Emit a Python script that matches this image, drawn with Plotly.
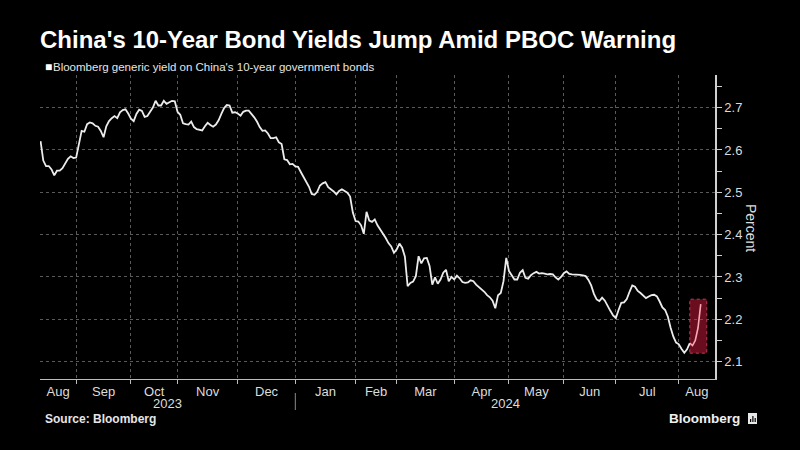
import pandas as pd
import plotly.graph_objects as go

# ---------------- data ----------------
start_date = "2023-08-15"
end_date = "2024-08-13"
market_holidays = [
    "2023-09-29", "2023-10-02", "2023-10-03", "2023-10-04", "2023-10-05", "2023-10-06",
    "2024-01-01", "2024-02-09", "2024-02-12", "2024-02-13", "2024-02-14", "2024-02-15",
    "2024-02-16", "2024-04-04", "2024-04-05", "2024-05-01", "2024-05-02", "2024-05-03",
    "2024-06-10",
]

yields = [
    2.621, 2.575, 2.562, 2.562, 2.554, 2.540, 2.551, 2.551, 2.557, 2.568,
    2.579, 2.585, 2.581, 2.582, 2.617, 2.645, 2.643, 2.661, 2.665, 2.663,
    2.657, 2.655, 2.645, 2.630, 2.656, 2.668, 2.675, 2.680, 2.675, 2.689,
    2.694, 2.696, 2.686, 2.674, 2.668, 2.685, 2.695, 2.692, 2.678, 2.680,
    2.690, 2.700, 2.716, 2.705, 2.705, 2.716, 2.709, 2.713, 2.716, 2.715,
    2.690, 2.683, 2.663, 2.661, 2.660, 2.667, 2.654, 2.649, 2.647, 2.646,
    2.656, 2.664, 2.659, 2.655, 2.660, 2.670, 2.685, 2.699, 2.706, 2.705,
    2.688, 2.689, 2.686, 2.681, 2.690, 2.693, 2.693, 2.686, 2.677, 2.667,
    2.654, 2.645, 2.646, 2.639, 2.628, 2.628, 2.630, 2.618, 2.614, 2.578,
    2.576, 2.566, 2.567, 2.561, 2.560, 2.548, 2.537, 2.526, 2.513, 2.496,
    2.494, 2.501, 2.516, 2.521, 2.524, 2.512, 2.508, 2.502, 2.495, 2.503,
    2.507, 2.503, 2.499, 2.490, 2.452, 2.432, 2.431, 2.422, 2.402, 2.454,
    2.433, 2.430, 2.436, 2.422, 2.413, 2.403, 2.392, 2.380, 2.372, 2.357,
    2.365, 2.379, 2.369, 2.348, 2.278, 2.286, 2.289, 2.302, 2.349, 2.332,
    2.344, 2.345, 2.326, 2.282, 2.299, 2.284, 2.294, 2.310, 2.317, 2.290,
    2.300, 2.294, 2.303, 2.297, 2.288, 2.286, 2.287, 2.292, 2.290, 2.282,
    2.277, 2.270, 2.265, 2.257, 2.252, 2.244, 2.226, 2.257, 2.262, 2.290,
    2.345, 2.314, 2.305, 2.294, 2.294, 2.310, 2.316, 2.298, 2.296, 2.304,
    2.309, 2.312, 2.308, 2.309, 2.308, 2.306, 2.307, 2.306, 2.299, 2.294,
    2.300, 2.309, 2.313, 2.307, 2.306, 2.306, 2.306, 2.305, 2.304, 2.302,
    2.293, 2.280, 2.260, 2.247, 2.243, 2.251, 2.244, 2.230, 2.220, 2.209,
    2.203, 2.222, 2.239, 2.240, 2.248, 2.265, 2.280, 2.277, 2.267, 2.262,
    2.256, 2.250, 2.254, 2.257, 2.258, 2.254, 2.242, 2.228, 2.222, 2.206,
    2.180, 2.159, 2.145, 2.141, 2.130, 2.121, 2.129, 2.144, 2.138, 2.150,
    2.180, 2.236,
]

month_names = ["Jan", "Feb", "Mar", "Apr", "May", "Jun",
               "Jul", "Aug", "Sep", "Oct", "Nov", "Dec"]
y_tick_values = [2.1, 2.2, 2.3, 2.4, 2.5, 2.6, 2.7]
y_tick_labels = ["2.1", "2.2", "2.3", "2.4", "2.5", "2.6", "2.7"]

highlight_start = "2024-08-07"
highlight_low, highlight_high = 2.12, 2.2475

# ---------------- trading calendar ----------------
dates = pd.bdate_range(start_date, end_date)
dates = dates[~dates.isin(pd.to_datetime(market_holidays))]
n = min(len(dates), len(yields))
dates = dates[:n]
vals = yields[:n]
idx = list(range(n))

x_lo, x_hi = -0.2, n - 1 + 5.2
y_lo, y_hi = 2.059, 2.777

# month boundaries (first trading day of each month)
bounds = [i for i in range(1, n) if dates[i].month != dates[i - 1].month]
edges = [x_lo] + bounds + [x_hi]
month_keys = [dates[0]] + [dates[b] for b in bounds]
mid_vals = [(edges[k] + edges[k + 1]) / 2 for k in range(len(edges) - 1)]
mid_text = [month_names[d.month - 1] for d in month_keys]

# year spans
year_break = [b for b in bounds if dates[b].year != dates[b - 1].year][0]
year_mids = [((x_lo + year_break) / 2, str(dates[0].year)),
             ((year_break + x_hi) / 2, str(dates[-1].year))]

hl_i = int(dates.get_loc(pd.Timestamp(highlight_start)))

# ---------------- layout helpers ----------------
W, H = 800, 450
L, R, T, B = 40, 85, 75, 71
PW, PH = W - L - R, H - T - B


def px_x(p):
    return (p - L) / PW


def px_y(p):
    return (H - B - p) / PH


FONT = "Liberation Sans, Arial, sans-serif"
TXT = "#dcdcdc"
GRID = "#5a5a5a"

fig = go.Figure()
fig.add_trace(go.Scatter(
    x=idx[:hl_i + 1], y=vals[:hl_i + 1], mode="lines",
    line=dict(color="#ececec", width=1.8), hoverinfo="skip", showlegend=False))
fig.add_trace(go.Scatter(
    x=idx[hl_i:], y=vals[hl_i:], mode="lines",
    line=dict(color="#f7a8b4", width=1.6), hoverinfo="skip", showlegend=False))

# highlight box
fig.add_shape(type="rect", xref="x", yref="y",
              x0=hl_i, x1=x_hi - 3.0, y0=highlight_low, y1=highlight_high,
              fillcolor="rgba(125,15,35,0.85)",
              line=dict(color="#b8404f", width=1, dash="dot"), layer="below")

# year separator
fig.add_shape(type="line", xref="x", yref="paper",
              x0=year_break, x1=year_break, y0=px_y(393), y1=px_y(410),
              line=dict(color="#8a8a8a", width=1))

annotations = []
for xm, label in year_mids:
    annotations.append(dict(x=xm, xref="x", y=px_y(403), yref="paper",
                            text=label, showarrow=False,
                            font=dict(family=FONT, size=13, color=TXT),
                            xanchor="center", yanchor="middle"))

annotations += [
    dict(x=px_x(43), y=px_y(67), xref="paper", yref="paper", text="■",
         showarrow=False, font=dict(family=FONT, size=12, color="#ffffff"),
         xanchor="left", yanchor="middle"),
    dict(x=px_x(51), y=px_y(67), xref="paper", yref="paper",
         text="Bloomberg generic yield on China's 10-year government bonds",
         showarrow=False, font=dict(family=FONT, size=11.5, color="#e6e6e6"),
         xanchor="left", yanchor="middle"),
    dict(x=px_x(751), y=px_y(228), xref="paper", yref="paper", text="Percent",
         textangle=90, showarrow=False,
         font=dict(family=FONT, size=14, color=TXT),
         xanchor="center", yanchor="middle"),
    dict(x=px_x(43), y=px_y(419), xref="paper", yref="paper",
         text="<b>Source: Bloomberg</b>", showarrow=False,
         font=dict(family=FONT, size=12, color="#e6e6e6"),
         xanchor="left", yanchor="middle"),
    dict(x=px_x(742), y=px_y(418), xref="paper", yref="paper",
         text="<b>Bloomberg</b>", showarrow=False,
         font=dict(family=FONT, size=13.5, color="#f0f0f0"),
         xanchor="right", yanchor="middle"),
]

# small logo icon
fig.add_shape(type="rect", xref="paper", yref="paper",
              x0=px_x(748), x1=px_x(757), y0=px_y(424), y1=px_y(413),
              fillcolor="#e8e8e8", line=dict(width=0))
for bx, top in [(750, 419), (752.3, 416), (754.6, 418)]:
    fig.add_shape(type="rect", xref="paper", yref="paper",
                  x0=px_x(bx), x1=px_x(bx + 1.2), y0=px_y(422), y1=px_y(top),
                  fillcolor="#000000", line=dict(width=0))

fig.update_layout(
    width=W, height=H,
    margin=dict(l=L, r=R, t=T, b=B),
    paper_bgcolor="#000000", plot_bgcolor="#000000",
    font=dict(family=FONT, color=TXT),
    title=dict(text="<b>China's 10-Year Bond Yields Jump Amid PBOC Warning</b>",
               x=40 / W, xref="container", xanchor="left",
               y=1 - 40 / H, yref="container", yanchor="middle",
               font=dict(family=FONT, size=24, color="#ffffff")),
    annotations=annotations,
    showlegend=False,
    xaxis=dict(
        range=[x_lo, x_hi], showgrid=False, zeroline=False,
        tickmode="array", tickvals=mid_vals, ticktext=mid_text, ticks="",
        tickfont=dict(family=FONT, size=13, color=TXT),
        showline=True, linecolor="#bdbdbd", linewidth=1,
        minor=dict(tickmode="array", tickvals=bounds, ticks="outside",
                   ticklen=4, tickcolor="#bdbdbd", tickwidth=1,
                   showgrid=True, gridcolor=GRID, griddash="dot", gridwidth=1),
    ),
    yaxis=dict(
        range=[y_lo, y_hi], side="right", zeroline=False,
        tickmode="array", tickvals=y_tick_values, ticktext=y_tick_labels,
        ticks="outside", ticklen=5, tickcolor="#d0d0d0", tickwidth=1,
        tickfont=dict(family=FONT, size=13, color=TXT),
        showline=True, linecolor="#d0d0d0", linewidth=1.5,
        showgrid=True, gridcolor=GRID, griddash="dot", gridwidth=1,
        minor=dict(tickmode="linear", tick0=2.05, dtick=0.1, ticks="outside",
                   ticklen=5, tickcolor="#d0d0d0", tickwidth=1, showgrid=False),
    ),
)

fig.write_html("out.html")
